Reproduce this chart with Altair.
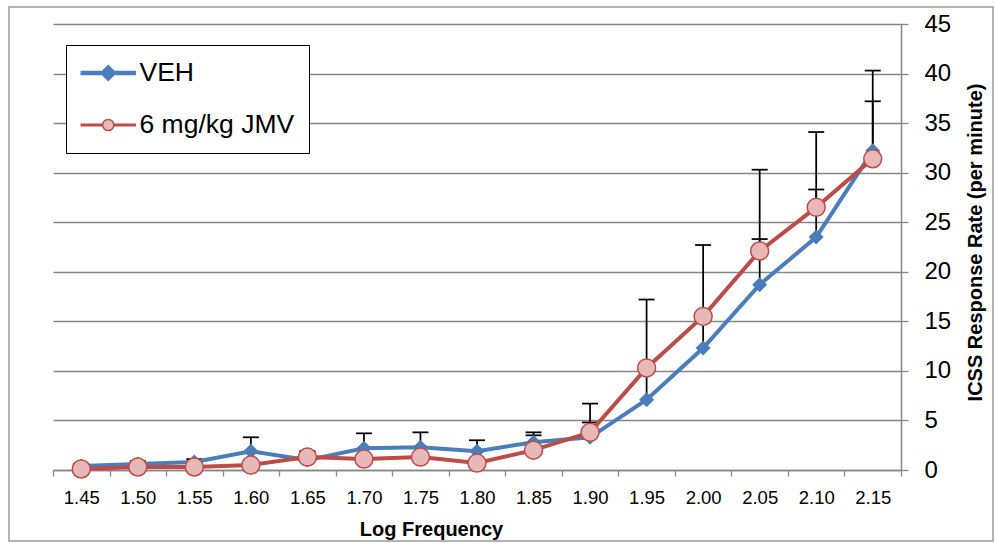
import altair as alt
import pandas as pd

# ---- data ----
freq = ["1.45", "1.50", "1.55", "1.60", "1.65", "1.70", "1.75", "1.80",
        "1.85", "1.90", "1.95", "2.00", "2.05", "2.10", "2.15"]
veh = [0.4, 0.6, 0.8, 1.9, 1.0, 2.2, 2.3, 1.9, 2.8, 3.3, 7.1, 12.3, 18.7, 23.5, 32.2]
veh_err = [0.2, 0.3, 0.3, 1.4, 0.9, 1.5, 1.5, 1.1, 1.0, 1.5, 2.8, 2.8, 4.6, 4.8, 5.0]
jmv = [0.1, 0.3, 0.3, 0.5, 1.3, 1.1, 1.3, 0.7, 2.0, 3.8, 10.3, 15.5, 22.1, 26.5, 31.4]
jmv_err = [0.1, 0.2, 0.2, 0.3, 0.5, 0.4, 0.4, 0.3, 1.5, 2.9, 6.9, 7.2, 8.2, 7.6, 8.9]
series_names = ["VEH", "6 mg/kg JMV"]
y_ticks = [0, 5, 10, 15, 20, 25, 30, 35, 40, 45]

BLUE = "#4A7EBB"
RED = "#BE4B48"
PINK = "#E6B9B8"
GRAY = "#868686"
FONT = "Liberation Sans"

rows = []
for f, v, e in zip(freq, veh, veh_err):
    rows.append({"freq": f, "series": series_names[0], "value": v, "top": v + e})
for f, v, e in zip(freq, jmv, jmv_err):
    rows.append({"freq": f, "series": series_names[1], "value": v, "top": v + e})
df = pd.DataFrame(rows)

X = alt.X("freq:O", sort=freq,
          scale=alt.Scale(type="band", paddingInner=0, paddingOuter=0),
          axis=alt.Axis(title="Log Frequency", labelAngle=0, tickBand="extent",
                        labelFont=FONT, labelFontSize=18.5, labelColor="black",
                        labelPadding=12, tickSize=6, tickColor=GRAY, tickWidth=1.3,
                        domainColor=GRAY, domainWidth=1.5, grid=False,
                        titleFont=FONT, titleFontSize=20, titleFontWeight="bold",
                        titleColor="black", titleX=378, titleY=65,
                        titleAlign="center", titleBaseline="alphabetic"))

yscale = alt.Scale(domain=[0, 45], nice=False, zero=True)
Y = alt.Y("value:Q", scale=yscale,
          axis=alt.Axis(orient="right", values=y_ticks, title="ICSS Response Rate (per minute)",
                        labelFont=FONT, labelFontSize=24, labelColor="black",
                        labelPadding=16, tickSize=7, tickColor=GRAY, tickWidth=1.3,
                        domainColor=GRAY, domainWidth=1.5,
                        grid=True, gridColor=GRAY, gridWidth=1.3,
                        titleFont=FONT, titleFontSize=20, titleFontWeight="bold",
                        titleColor="black", titleAngle=270, titleX=80, titleY=218,
                        titleAlign="center", titleBaseline="alphabetic"))

base = alt.Chart(df)

border = alt.Chart(alt.Data(values=[{"k": 1}])).mark_rect(
    fillOpacity=0, stroke="#9a9a9a", strokeWidth=1.5
).encode(x=alt.value(-44), x2=alt.value(940), y=alt.value(-17), y2=alt.value(517))

err_rule = base.mark_rule(color="black", strokeWidth=1.75).encode(
    x=X, y=Y, y2=alt.Y2("top:Q"))
err_cap = base.mark_tick(color="black", thickness=1.75, size=16, opacity=1).encode(
    x=X, y=alt.Y("top:Q", scale=yscale))

veh_line = base.transform_filter(alt.datum.series == series_names[0]).mark_line(
    color=BLUE, strokeWidth=4).encode(x=X, y=Y)
veh_pts = base.transform_filter(alt.datum.series == series_names[0]).mark_point(
    shape="diamond", filled=True, size=225, color=BLUE, opacity=1).encode(x=X, y=Y)
jmv_line = base.transform_filter(alt.datum.series == series_names[1]).mark_line(
    color=RED, strokeWidth=4).encode(x=X, y=Y)
jmv_pts = base.transform_filter(alt.datum.series == series_names[1]).mark_point(
    shape="circle", filled=True, size=324, fill=PINK, stroke=RED, strokeWidth=1.5,
    opacity=1).encode(x=X, y=Y)

# legend symbols: line segment + marker (path units: 13 px)
PATH_VEH = ("M-0.98,-0.115L3.17,-0.115L3.17,0.115L-0.98,0.115Z "
            "M1.096,-0.577L1.673,0L1.096,0.577L0.519,0Z")
PATH_JMV = ("M-0.98,-0.058L0.666,-0.058L0.666,0.058L-0.98,0.058Z "
            "M1.526,-0.058L3.17,-0.058L3.17,0.058L1.526,0.058Z "
            "M0.666,0A0.43,0.43 0 1,1 1.526,0A0.43,0.43 0 1,1 0.666,0Z")

leg = alt.Legend(title=None, orient="none", legendX=13, legendY=21, padding=14,
                 rowPadding=24, symbolSize=676, symbolStrokeWidth=1.5, labelOffset=31.5,
                 labelFont=FONT, labelFontSize=26.5, labelColor="black", labelLimit=0,
                 strokeColor="black", fillColor="white", symbolOpacity=1)

legend_layer = alt.Chart(alt.Data(values=[])).mark_point(
    filled=True, opacity=1, strokeWidth=1.5).encode(
    fill=alt.Fill("series:N", scale=alt.Scale(domain=series_names, range=[BLUE, PINK]), legend=leg),
    stroke=alt.Stroke("series:N", scale=alt.Scale(domain=series_names, range=[BLUE, RED]), legend=leg),
    shape=alt.Shape("series:N", scale=alt.Scale(domain=series_names, range=[PATH_VEH, PATH_JMV]), legend=leg),
)

chart = alt.layer(
    border, err_rule, err_cap, veh_line, veh_pts, jmv_line, jmv_pts, legend_layer
).properties(
    width=848, height=446,
    autosize=alt.AutoSizeParams(type="none"),
    padding={"left": 53, "top": 24, "right": 94, "bottom": 73},
    background="white",
).configure_view(stroke=None)

chart.save("out.html", embed_options={"renderer": "svg", "actions": False})
